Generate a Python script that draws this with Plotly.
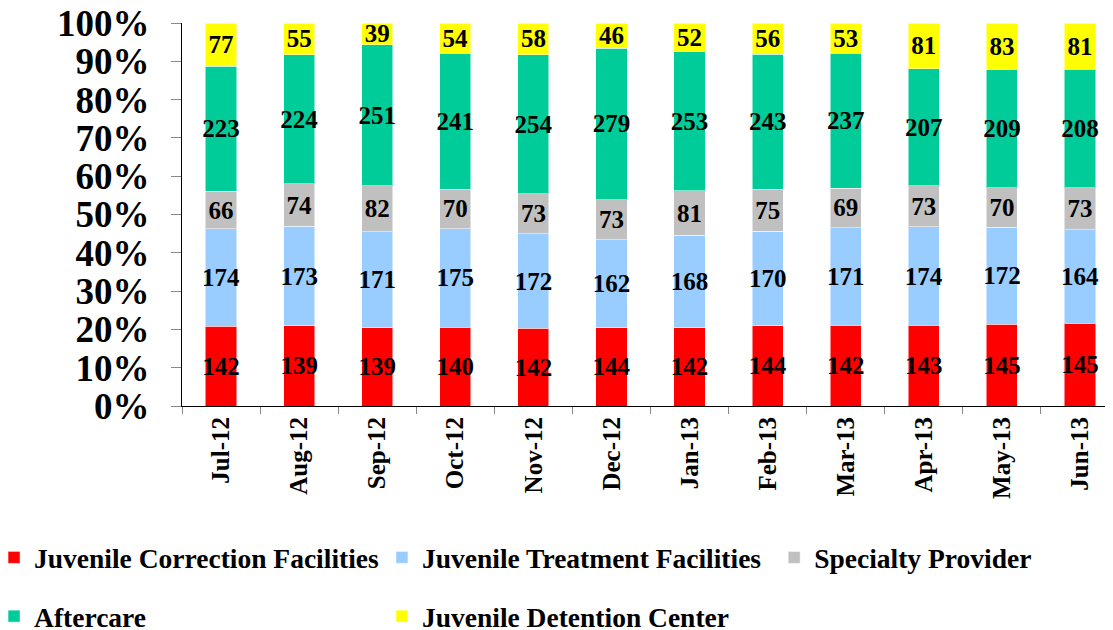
import plotly.graph_objects as go

months = ['Jul-12', 'Aug-12', 'Sep-12', 'Oct-12', 'Nov-12', 'Dec-12',
          'Jan-13', 'Feb-13', 'Mar-13', 'Apr-13', 'May-13', 'Jun-13']

correction = [142, 139, 139, 140, 142, 144, 142, 144, 142, 143, 145, 145]
treatment = [174, 173, 171, 175, 172, 162, 168, 170, 171, 174, 172, 164]
specialty = [66, 74, 82, 70, 73, 73, 81, 75, 69, 73, 70, 73]
aftercare = [223, 224, 251, 241, 254, 279, 253, 243, 237, 207, 209, 208]
detention = [77, 55, 39, 54, 58, 46, 52, 56, 53, 81, 83, 81]

FONT = 'Liberation Serif'

series = [
    ('Juvenile Correction Facilities', correction, '#FF0000', 'legend'),
    ('Juvenile Treatment Facilities', treatment, '#99CCFF', 'legend2'),
    ('Specialty Provider', specialty, '#C0C0C0', 'legend3'),
    ('Aftercare', aftercare, '#00CC99', 'legend'),
    ('Juvenile Detention Center', detention, '#FFFF00', 'legend2'),
]

fig = go.Figure()
for i, (name, vals, color, leg) in enumerate(series):
    fig.add_trace(go.Bar(
        x=months, y=vals, name=name,
        marker=dict(color=color, line=dict(color='rgba(255,255,255,0.5)', width=1)),
        text=vals, textposition='inside', insidetextanchor='middle', textangle=0,
        textfont=dict(family=FONT, size=25, color='black', weight='bold'),
        legend=leg, legendgroup='g%d' % i,
    ))

# legends sit in the bottom margin, one per column
legend_common = dict(
    orientation='v', xref='paper', yref='paper', xanchor='left', yanchor='top',
    font=dict(family=FONT, size=27.5, color='black', weight='bold'),
    bgcolor='rgba(0,0,0,0)', tracegroupgap=20, itemwidth=30,
)
legend_top = -0.3316

fig.update_layout(
    barmode='stack', barnorm='percent', bargap=0.6,
    width=1120, height=630,
    margin=dict(l=174, r=9, t=15, b=232, autoexpand=False),
    plot_bgcolor='white', paper_bgcolor='white',
    uniformtext=dict(minsize=25, mode='show'),
    showlegend=True,
    legend=dict(x=-0.2006, y=legend_top, **legend_common),
    legend2=dict(x=0.2134, y=legend_top, **legend_common),
    legend3=dict(x=0.632, y=legend_top, **legend_common),
    xaxis=dict(
        tickangle=-90, tickfont=dict(family=FONT, size=25, color='black', weight='bold'),
        showline=True, linecolor='black', linewidth=1,
        ticks='outside', tickson='boundaries', ticklen=7, tickcolor='#888888',
        showgrid=False,
    ),
    yaxis=dict(
        range=[0, 100], dtick=10, ticksuffix='%', ticklabeloverflow='allow',
        tickfont=dict(family=FONT, size=37, color='black', weight='bold'),
        showline=True, linecolor='black', linewidth=1,
        ticks='outside', ticklen=10, tickcolor='#888888', ticklabelstandoff=14,
        showgrid=False, zeroline=False,
    ),
)

fig.write_html('out.html')
